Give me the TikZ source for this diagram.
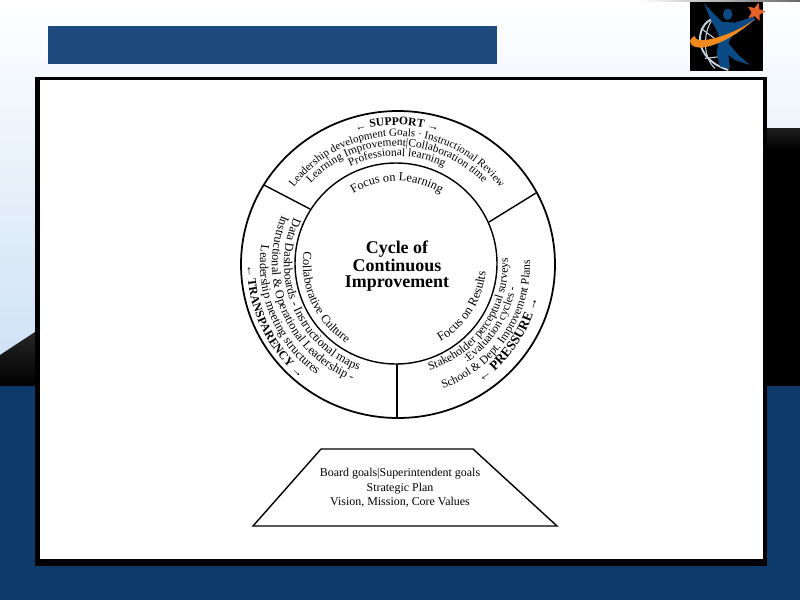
\documentclass[tikz,border=0pt]{standalone}
\usepackage{fontspec}
\setmainfont{Liberation Serif}
\usetikzlibrary{decorations.text,shapes.geometric}
\definecolor{slidenavy}{HTML}{0E3A6B}
\definecolor{titleblue}{HTML}{1F4A7D}
\definecolor{skyblue}{HTML}{CBE0F5}
\definecolor{logoblue}{HTML}{0B4A85}
\definecolor{logoorange}{HTML}{F08A1D}
\definecolor{logostarred}{HTML}{E8602A}
\definecolor{globegrey}{HTML}{C5D3DC}
\newcommand{\ringsize}[1]{\fontsize{#1}{8}\selectfont}
\tikzset{
    ringline/.style={line width=0.8pt},
    ringtext/.style={decorate, decoration={text along path, text align=center,
        text format delimiters={+}{+}, text={#1}}},
    planlabel/.style={font=\fontsize{6.8}{8.2}\selectfont, align=center, inner sep=0pt},
}
\begin{document}
\begin{tikzpicture}[x=0.02cm,y=0.02cm]
\useasboundingbox (0,0) rectangle (800,600);
%====================================================
% SLIDE BACKGROUND
%====================================================
\shade[top color=white,bottom color=skyblue] (0,600) rectangle (800,214);
\fill[slidenavy] (0,0) rectangle (800,214);
\shade[top color=black!85,bottom color=black] (0,245) -- (35,268) -- (35,214) -- (0,214) -- cycle;
\fill[black] (767,214) rectangle (800,450);
\shade[top color=black!88,bottom color=black] (767,472) rectangle (800,450);
\shade[left color=white,right color=black!60] (640,600) rectangle (800,599);
\fill[titleblue] (48,574) rectangle (497,536);
%====================================================
% LOGO
%====================================================
\fill[black] (690,598) rectangle (763,529);
\begin{scope}[shift={(685,600)},x=0.00667cm,y=-0.00667cm]
\draw[globegrey,line width=1.1pt] (85,55) .. controls (30,75) and (20,175) .. (130,210);
\draw[globegrey,line width=0.6pt] (85,55) .. controls (55,90) and (50,170) .. (90,205);
\draw[globegrey,line width=0.6pt] (48,85) -- (95,120);
\draw[globegrey,line width=0.6pt] (60,175) -- (105,170);
\fill[logoblue] (57,10) -- (85,40) -- (110,65) -- (150,68) -- (205,50) -- (210,60) -- (165,90)
    -- (140,110) -- (130,130) -- (160,165) -- (195,195) -- (150,180) -- (130,165) -- (135,205)
    -- (105,200) -- (95,160) -- (100,130) -- (100,100) -- (75,55) -- cycle;
\fill[logoblue] (128,43) ellipse (14 and 17);
\fill[logoorange] (15,122) .. controls (18,165) and (120,140) .. (212,55)
    .. controls (150,105) and (30,140) .. (28,108) .. controls (22,112) and (18,116) .. (15,122);
\end{scope}
\node[star,star points=5,star point ratio=2.2,fill=logostarred,inner sep=0pt,minimum size=11pt,rotate=-15] (logostar) at (756,588) {};
%====================================================
% WHITE PANEL
%====================================================
\fill[black] (35,523) rectangle (767,34);
\fill[white] (40,520) rectangle (763,41);
%====================================================
% RING
%====================================================
\draw[ringline,line width=1pt] (398,335.5) ellipse (157 and 153.5);
\draw[ringline] (396,336.5) ellipse (101 and 100.5);
\draw[ringline] (264,415) -- (310,391);
\draw[ringline] (536,407) -- (489,378);
\draw[ringline] (397,236) -- (397,182);
\node[font=\fontsize{10.2}{8.8}\bfseries\selectfont,align=center,inner sep=0pt] (cycle) at (397,334)
    {Cycle of\\Continuous\\Improvement};
%====================================================
% RING TEXT
%====================================================
\ringsize{6.3}
% top sector
\path[ringtext={+\bfseries\ringsize{6.6}+← SUPPORT →}] (397,336) ++(170:139) arc (170:10:139);
\path[ringtext={Leadership development Goals · Instructional Review}] (397,336) ++(170:128) arc (170:10:128);
\path[ringtext={+\ringsize{6.5}+Learning Improvement|Collaboration time}] (397,336) ++(170:118) arc (170:10:118);
\path[ringtext={+\ringsize{6.5}+Professional learning}] (397,336) ++(170:108) arc (170:10:108);
\path[ringtext={+\ringsize{7}+Focus on Learning}] (397,336) ++(170:83) arc (170:10:83);
% left sector
\path[ringtext={+\ringsize{7}+Collaborative Culture}] (397,336) ++(120:94) arc (120:290:94);
\path[ringtext={+\ringsize{7}+Data Dashboards - Instructional maps}] (397,336) ++(118:113) arc (118:288:113);
\path[ringtext={+\ringsize{7}+Instructional {\&} Operational Leadership -}] (397,336) ++(118:125) arc (118:288:125);
\path[ringtext={+\ringsize{7}+Leadership meeting structures}] (397,336) ++(118:137) arc (118:288:137);
\path[ringtext={+\bfseries\ringsize{6.8}+← TRANSPARENCY →}] (397,336) ++(120:150) arc (120:290:150);
% right sector
\path[ringtext={+\ringsize{7.2}+Focus on Results}] (397,336) ++(-118:89) arc (-118:52:89);
\path[ringtext={+\ringsize{6.7}+Stakeholder perceptual surveys}] (397,336) ++(-120:111) arc (-120:50:111);
\path[ringtext={+\ringsize{6.6}+:Evaluation cycles -}] (397,336) ++(-118:121) arc (-118:52:121);
\path[ringtext={+\ringsize{6.6}+School {\&} Dept. Improvement Plans}] (397,336) ++(-119:133) arc (-119:51:133);
\path[ringtext={+\bfseries\ringsize{7.6}+← PRESSURE →}] (397,336) ++(-119:145) arc (-119:51:145);
%====================================================
% PLAN
%====================================================
\draw[ringline] (253,74) -- (321,151) -- (473,151) -- (557,74) -- cycle;
\node[planlabel] (plan) at (400,112) {Board goals|Superintendent goals\\Strategic Plan\\Vision, Mission, Core Values};
\end{tikzpicture}
\end{document}
